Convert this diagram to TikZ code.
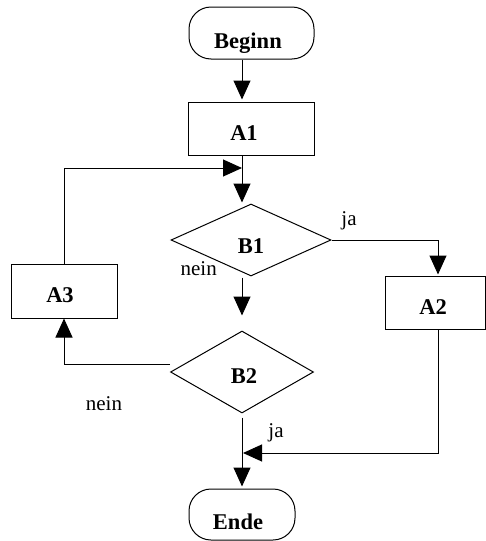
\documentclass[tikz,border=0pt]{standalone}
\usepackage{fontspec}
\setmainfont{Liberation Serif}
\usetikzlibrary{arrows.meta,shapes.geometric}
\begin{document}
\begin{tikzpicture}[x=1pt,y=-1pt,
  line width=1pt,
  arr/.style={-{Triangle[length=19pt,width=17pt]}},
  terminal/.style={draw,rectangle,rounded corners=22pt,inner sep=0pt},
  process/.style={draw,rectangle,inner sep=0pt},
  decision/.style={draw,diamond,inner sep=0pt},
  title/.style={anchor=base,inner sep=0pt,font=\fontsize{22.5}{26}\selectfont\bfseries},
  lbl/.style={anchor=base,inner sep=0pt,font=\fontsize{21}{25}\selectfont}]
\useasboundingbox (0,0) rectangle (486,541);

% flowchart blocks
\node[terminal,minimum width=125pt,minimum height=52pt] (beginn) at (251.5,33) {};
\node[process,minimum width=126pt,minimum height=53pt] (a1) at (251,128.5) {};
\node[decision,minimum width=160pt,minimum height=72pt] (b1) at (251,240) {};
\node[process,minimum width=100pt,minimum height=53pt] (a2) at (435,302.5) {};
\node[process,minimum width=106pt,minimum height=54pt] (a3) at (64,291) {};
\node[decision,minimum width=143pt,minimum height=82pt] (b2) at (242,372) {};
\node[terminal,minimum width=106pt,minimum height=51pt] (ende) at (242,514.5) {};

% block texts
\node[title] (beginnt) at (248,48.3) {Beginn};
\node[title] (a1t) at (244,140) {A1};
\node[title] (b1t) at (251,253.3) {B1};
\node[title] (a2t) at (433,314) {A2};
\node[title] (a3t) at (60,302) {A3};
\node[title] (b2t) at (244,383.3) {B2};
\node[title] (endet) at (238,529.3) {Ende};

% points on the main vertical line
\coordinate (spine) at (242,0);
\coordinate (join) at (242,168);
\coordinate (merge) at (243,453);

% connectors
\draw[arr] (beginn.south -| spine) -- ([yshift=2pt]a1.north -| spine);
\draw[arr] (a1.south -| spine) -- ([yshift=1pt]b1.north -| spine);
\draw[arr] (a3.north) |- (join);
\draw[arr] (b1.east) -| ([xshift=3pt,yshift=1pt]a2.north);
\draw[arr] ([yshift=-1pt]b1.south -| spine) -- ([yshift=15pt]b2.north);
\draw[arr] ([yshift=8pt]b2.west) -| (a3.south);
\draw[arr] ([yshift=-4pt]b2.south) -- ([yshift=2pt]ende.north);
\draw[arr] ([xshift=3pt]a2.south) |- (merge);

% branch labels
\node[lbl] (ja1) at (349,225.7) {ja};
\node[lbl] (nein1) at (198.7,275.7) {nein};
\node[lbl] (nein2) at (104,410) {nein};
\node[lbl] (ja2) at (276,437) {ja};
\end{tikzpicture}
\end{document}
